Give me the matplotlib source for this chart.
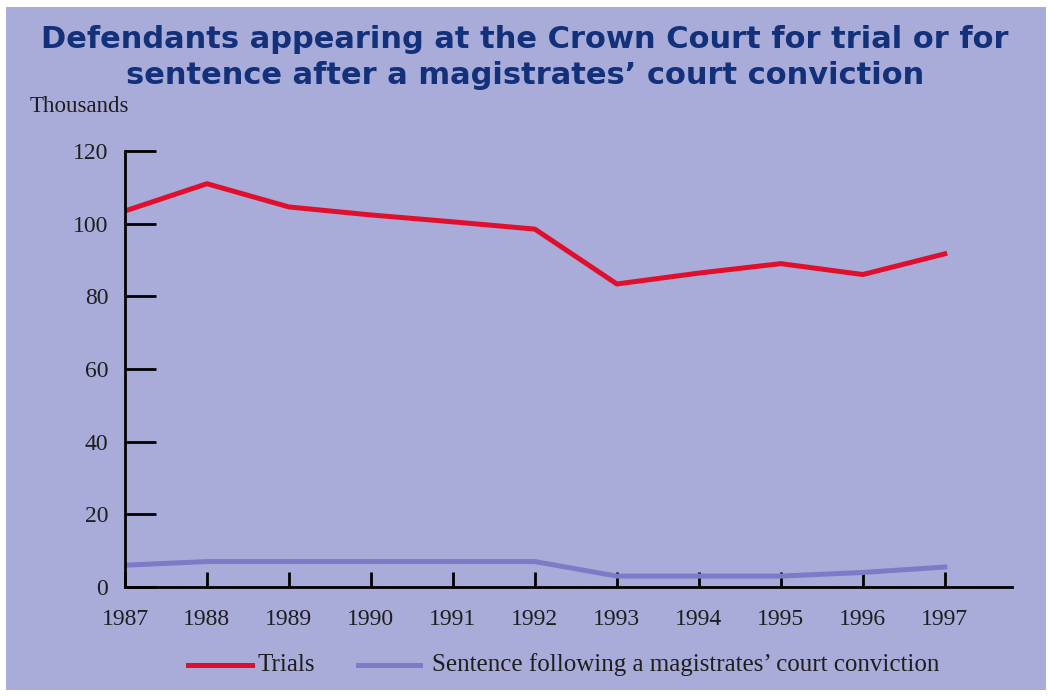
import matplotlib.pyplot as plt
from matplotlib.lines import Line2D
from matplotlib.patches import Rectangle

# data (thousands)
years = [1987, 1988, 1989, 1990, 1991, 1992, 1993, 1994, 1995, 1996, 1997]
trials = [103.5, 111, 104.6, 102.4, 100.5, 98.5, 83.4, 86.4, 89, 86, 91.7]
sentence = [6, 7, 7, 7, 7, 7, 3, 3, 3, 4, 5.5]
yticks = [0, 20, 40, 60, 80, 100, 120]

BG = '#a9acd8'
RED = '#e0102c'
BLUE = '#7d7bc8'
NAVY = '#13307a'
TXT = '#1e1e1e'

fig = plt.figure(figsize=(10.5, 6.97), dpi=100)
fig.patch.set_facecolor('white')
fig.patches.append(Rectangle((6 / 1050, 7 / 697), 1040 / 1050, 683 / 697,
                             transform=fig.transFigure, facecolor=BG,
                             edgecolor='none', zorder=-5))

ax = fig.add_axes([125 / 1050, 1 - 587 / 697, 887 / 1050, 436 / 697])
ax.set_facecolor('none')
ax.set_zorder(2)

ax.plot(years, trials, color=RED, lw=3.6, solid_joinstyle='round')
ax.plot(years, sentence, color=BLUE, lw=3.6)

ax.set_xlim(1987, 1997.82)
ax.set_ylim(0, 120)
ax.set_xticks(years)
ax.set_yticks(yticks)

serif = 'Liberation Serif'
ax.set_xticklabels([str(y) for y in years], family=serif, fontsize=17, color=TXT)
ax.set_yticklabels([str(v) for v in yticks], family=serif, fontsize=17, color=TXT)

for s in ['top', 'right']:
    ax.spines[s].set_visible(False)
for s in ['left', 'bottom']:
    ax.spines[s].set_linewidth(2)
    ax.spines[s].set_color('black')

ax.tick_params(axis='y', direction='in', length=22, width=2, pad=12, colors='black',
               labelcolor=TXT)
ax.tick_params(axis='x', direction='in', length=11, width=2, pad=16, colors='black',
               labelcolor=TXT)

fig.text(0.5, 1 - 40 / 697, 'Defendants appearing at the Crown Court for trial or for',
         ha='center', va='center', fontsize=22, fontweight='bold', color=NAVY,
         family='DejaVu Sans')
fig.text(0.5, 1 - 75 / 697, "sentence after a magistrates\u2019 court conviction",
         ha='center', va='center', fontsize=22, fontweight='bold', color=NAVY,
         family='DejaVu Sans')
fig.text(30 / 1050, 1 - 107 / 697, 'Thousands', ha='left', va='center',
         fontsize=16.5, family=serif, color=TXT)

# legend drawn by hand at the bottom
ly = 1 - 665 / 697
fig.lines.append(Line2D([188 / 1050, 252 / 1050], [ly, ly], color=RED, lw=3.6,
                        transform=fig.transFigure))
fig.text(257 / 1050, ly, 'Trials', ha='left', va='center', fontsize=18, family=serif,
         color=TXT)
fig.lines.append(Line2D([358 / 1050, 420 / 1050], [ly, ly], color=BLUE, lw=3.6,
                        transform=fig.transFigure))
fig.text(432 / 1050, ly, "Sentence following a magistrates\u2019 court conviction",
         ha='left', va='center', fontsize=18, family=serif, color=TXT)

fig.savefig('out.png', dpi=100)
